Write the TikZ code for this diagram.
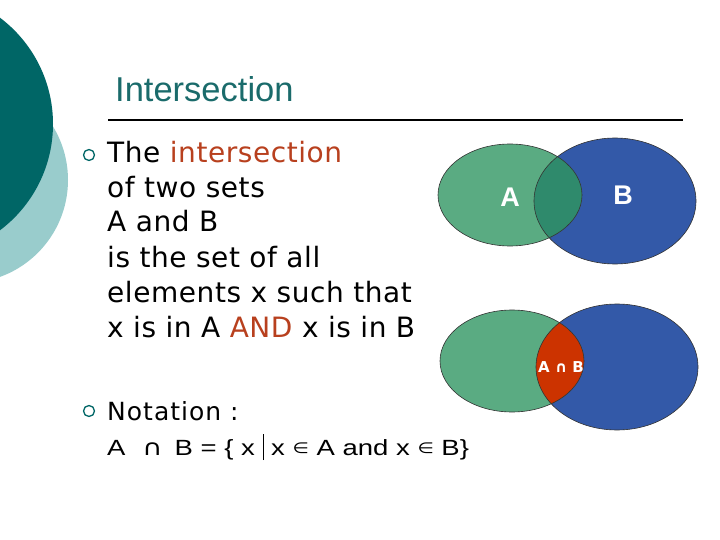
\documentclass[tikz,border=0pt]{standalone}
\usepackage{fontspec}
\setmainfont{DejaVu Sans}
\newfontfamily\titlefont{Liberation Sans}
\newfontfamily\bodyfont[LetterSpace=2]{DejaVu Sans}
\newfontfamily\widefont[LetterSpace=4]{DejaVu Sans}
\newfontfamily\symfont{DejaVu Sans}
\usepackage{tikz}
\definecolor{tealdark}{HTML}{006666}
\definecolor{teallight}{HTML}{99CCCC}
\definecolor{titleteal}{HTML}{1A6B6B}
\definecolor{setgreen}{HTML}{5AAB82}
\definecolor{setblue}{HTML}{3359A8}
\definecolor{capgreen}{HTML}{2F8A6C}
\definecolor{capred}{HTML}{CC3300}
\definecolor{wordred}{HTML}{B8401E}
\tikzset{
  line/.style={anchor=base west,inner sep=0pt,font=\bodyfont\fontsize{28}{28}\selectfont},
  bul/.style={draw=tealdark,line width=1.3pt},
  setline/.style={draw=black!80,line width=0.6pt},
  setname/.style={text=white,font=\titlefont\bfseries\fontsize{27}{27}\selectfont}
}
\newcommand\sym[1]{{\symfont #1}}
\newcommand\elt{{\symfont\fontsize{15}{15}\selectfont\raisebox{2pt}{∈}}}
\begin{document}
\begin{tikzpicture}[x=1pt,y=-1pt]
\useasboundingbox (0,0) rectangle (720,540);
\fill[white] (0,0) rectangle (720,540);
\begin{scope}
\clip (0,0) rectangle (720,540);
\fill[teallight] (-35,180) circle (103);
\fill[tealdark] (-80,124) circle (133);
\end{scope}
\node[anchor=base west,inner sep=0pt,text=titleteal,font=\titlefont\fontsize{34.5}{34.5}\selectfont] (title) at (115,102) {Intersection};
\draw[line width=2pt] (108,120) -- (683,120);
\draw[bul] (89,155) circle (5.5);
\draw[bul] (89,411) circle (5.5);
\node[line] (l1) at (107,163) {The \textcolor{wordred}{intersection}};
\node[line] (l2) at (107,198) {of two sets};
\node[line] (l3) at (107,232) {A and B};
\node[line] (l4) at (107,267) {is the set of all};
\node[line] (l5) at (107,302) {elements x such that};
\node[line] (l6) at (107,337) {x is in A \textcolor{wordred}{AND} x is in B};
\node[anchor=base west,inner sep=0pt,font=\widefont\fontsize{25}{25}\selectfont] (nota) at (107,420) {Notation :};
\node[anchor=base west,inner sep=0pt,font=\titlefont\fontsize{22}{22}\selectfont] (form) at (107,455)
  {\scalebox{1.25}[1]{A\,\, \sym{∩}\, B = \{ x \rule[-5pt]{0.8pt}{26pt} x \elt\ A and x \elt\ B\}}};
% top venn
\coordinate (A1) at (510,195);
\coordinate (B1) at (615,201);
\fill[setblue] (B1) ellipse (81 and 63);
\fill[setgreen] (A1) ellipse (72 and 51);
\begin{scope}
\clip (A1) ellipse (72 and 51);
\fill[capgreen] (B1) ellipse (81 and 63);
\end{scope}
\draw[setline] (B1) ellipse (81 and 63);
\draw[setline] (A1) ellipse (72 and 51);
\node[setname] (nA) at (510,197) {A};
\node[setname] (nB) at (623,195) {B};
% bottom venn
\coordinate (A2) at (512,361);
\coordinate (B2) at (617,367);
\fill[setblue] (B2) ellipse (81 and 63);
\fill[setgreen] (A2) ellipse (72 and 51);
\begin{scope}
\clip (A2) ellipse (72 and 51);
\fill[capred] (B2) ellipse (81 and 63);
\end{scope}
\draw[setline] (B2) ellipse (81 and 63);
\draw[setline] (A2) ellipse (72 and 51);
\node[text=white,font=\symfont\bfseries\fontsize{15}{15}\selectfont] (nAB) at (561,367) {A ∩ B};
\end{tikzpicture}
\end{document}
